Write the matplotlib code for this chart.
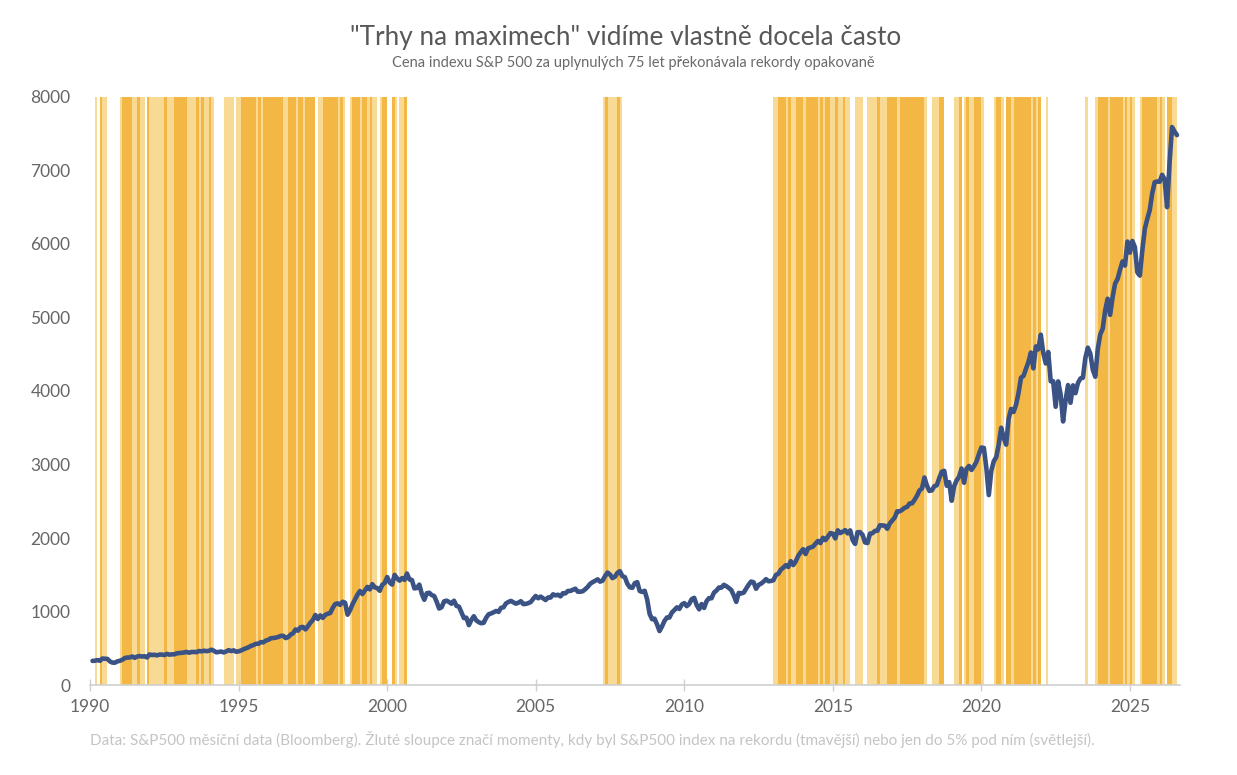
import matplotlib
matplotlib.use("Agg")
import matplotlib.pyplot as plt
import numpy as np

# S&P 500 month-end closes, Jan 1990 .. Jul 2026 (read / estimated from the chart)
sp_1990 = [329.08, 331.89, 339.94, 330.80, 361.23, 358.02, 356.15, 322.56, 306.05, 304.00, 322.22, 330.22]
sp_1991 = [343.93, 367.07, 375.22, 375.34, 389.83, 371.16, 387.81, 395.43, 387.86, 392.46, 375.22, 417.09]
sp_1992 = [408.79, 412.70, 403.69, 414.95, 415.35, 408.14, 424.21, 414.03, 417.80, 418.68, 431.35, 435.71]
sp_1993 = [438.78, 443.38, 451.67, 440.19, 450.19, 450.53, 448.13, 463.56, 458.93, 467.83, 461.79, 466.45]
sp_1994 = [481.61, 467.14, 445.77, 450.91, 456.50, 444.27, 458.26, 475.49, 462.69, 472.35, 453.69, 459.27]
sp_1995 = [470.42, 487.39, 500.71, 514.71, 533.40, 544.75, 562.06, 561.88, 584.41, 581.50, 605.37, 615.93]
sp_1996 = [636.02, 640.43, 645.50, 654.17, 669.12, 670.63, 639.95, 651.99, 687.33, 705.27, 757.02, 740.74]
sp_1997 = [786.16, 790.82, 757.12, 801.34, 848.28, 885.14, 954.29, 899.47, 947.28, 914.62, 955.40, 970.43]
sp_1998 = [980.28, 1049.34, 1101.75, 1111.75, 1090.82, 1133.84, 1120.67, 957.28, 1017.01, 1098.67, 1163.63, 1229.23]
sp_1999 = [1279.64, 1238.33, 1286.37, 1335.18, 1301.84, 1372.71, 1328.72, 1320.41, 1282.71, 1362.93, 1388.91, 1469.25]
sp_2000 = [1394.46, 1366.42, 1498.58, 1452.43, 1420.60, 1454.60, 1430.83, 1517.68, 1436.51, 1429.40, 1314.95, 1320.28]
sp_2001 = [1366.01, 1239.94, 1160.33, 1249.46, 1255.82, 1224.42, 1211.23, 1133.58, 1040.94, 1059.78, 1139.45, 1148.08]
sp_2002 = [1130.20, 1106.73, 1147.39, 1076.92, 1067.14, 989.82, 911.62, 916.07, 815.28, 885.76, 936.31, 879.82]
sp_2003 = [855.70, 841.15, 848.18, 916.92, 963.59, 974.50, 990.31, 1008.01, 995.97, 1050.71, 1058.20, 1111.92]
sp_2004 = [1131.13, 1144.94, 1126.21, 1107.30, 1120.68, 1140.84, 1101.72, 1104.24, 1114.58, 1130.20, 1173.82, 1211.92]
sp_2005 = [1181.27, 1203.60, 1180.59, 1156.85, 1191.50, 1191.33, 1234.18, 1220.33, 1228.81, 1207.01, 1249.48, 1248.29]
sp_2006 = [1280.08, 1280.66, 1294.83, 1310.61, 1270.09, 1270.20, 1276.66, 1303.82, 1335.85, 1377.94, 1400.63, 1418.30]
sp_2007 = [1438.24, 1406.82, 1420.86, 1482.37, 1530.62, 1503.35, 1455.27, 1473.99, 1526.75, 1549.38, 1481.14, 1468.36]
sp_2008 = [1378.55, 1330.63, 1322.70, 1385.59, 1400.38, 1280.00, 1267.38, 1282.83, 1166.36, 968.75, 896.24, 903.25]
sp_2009 = [825.88, 735.09, 797.87, 872.81, 919.14, 919.32, 987.48, 1020.62, 1057.08, 1036.19, 1095.63, 1115.10]
sp_2010 = [1073.87, 1104.49, 1169.43, 1186.69, 1089.41, 1030.71, 1101.60, 1049.33, 1141.20, 1183.26, 1180.55, 1257.64]
sp_2011 = [1286.12, 1327.22, 1325.83, 1363.61, 1345.20, 1320.64, 1292.28, 1218.89, 1131.42, 1253.30, 1246.96, 1257.60]
sp_2012 = [1312.41, 1365.68, 1408.47, 1397.91, 1310.33, 1362.16, 1379.32, 1406.58, 1440.67, 1412.16, 1416.18, 1426.19]
sp_2013 = [1498.11, 1514.68, 1569.19, 1597.57, 1630.74, 1606.28, 1685.73, 1632.97, 1681.55, 1756.54, 1805.81, 1848.36]
sp_2014 = [1782.59, 1859.45, 1872.34, 1883.95, 1923.57, 1960.23, 1930.67, 2003.37, 1972.29, 2018.05, 2067.56, 2058.90]
sp_2015 = [1994.99, 2104.50, 2067.89, 2085.51, 2107.39, 2063.11, 2103.84, 1972.18, 1920.03, 2079.36, 2080.41, 2043.94]
sp_2016 = [1940.24, 1932.23, 2059.74, 2065.30, 2096.95, 2098.86, 2173.60, 2170.95, 2168.27, 2126.15, 2198.81, 2238.83]
sp_2017 = [2278.87, 2363.64, 2362.72, 2384.20, 2411.80, 2423.41, 2470.30, 2471.65, 2519.36, 2575.26, 2647.58, 2673.61]
sp_2018 = [2823.81, 2713.83, 2640.87, 2648.05, 2705.27, 2718.37, 2816.29, 2901.52, 2913.98, 2711.74, 2760.17, 2506.85]
sp_2019 = [2704.10, 2784.49, 2834.40, 2945.83, 2752.06, 2941.76, 2980.38, 2926.46, 2976.74, 3037.56, 3140.98, 3230.78]
sp_2020 = [3225.52, 2954.22, 2584.59, 2912.43, 3044.31, 3100.29, 3271.12, 3500.31, 3363.00, 3269.96, 3621.63, 3756.07]
sp_2021 = [3714.24, 3811.15, 3972.89, 4181.17, 4204.11, 4297.50, 4395.26, 4522.68, 4307.54, 4605.38, 4567.00, 4766.18]
sp_2022 = [4515.55, 4373.94, 4530.41, 4131.93, 4132.15, 3785.38, 4130.29, 3955.00, 3585.62, 3871.98, 4080.11, 3839.50]
sp_2023 = [4076.60, 3970.15, 4109.31, 4169.48, 4179.83, 4450.38, 4588.96, 4507.66, 4288.05, 4193.80, 4567.80, 4769.83]
sp_2024 = [4845.65, 5096.27, 5254.35, 5035.69, 5277.51, 5460.48, 5522.30, 5648.40, 5762.48, 5705.45, 6032.38, 5881.63]
sp_2025 = [6040.53, 5954.50, 5611.85, 5569.06, 5911.69, 6204.95, 6339.39, 6460.26, 6688.46, 6840.20, 6849.09, 6845.50]
sp_2026 = [6940, 6880, 6500, 7100, 7590, 7530, 7480]

prior_peak = 353.40  # record close before Jan 1990 (Dec 1989)

years = list(range(1990, 2027))
y_ticks = [0, 1000, 2000, 3000, 4000, 5000, 6000, 7000, 8000]
x_ticks = [1990, 1995, 2000, 2005, 2010, 2015, 2020, 2025]

title = '"Trhy na maximech" vidíme vlastně docela často'
subtitle = "Cena indexu S&P 500 za uplynulých 75 let překonávala rekordy opakovaně"
note = ("Data: S&P500 měsíční data (Bloomberg). Žluté sloupce značí momenty, kdy byl S&P500 index "
        "na rekordu (tmavější) nebo jen do 5% pod ním (světlejší).")

series = [sp_1990, sp_1991, sp_1992, sp_1993, sp_1994, sp_1995, sp_1996, sp_1997, sp_1998,
          sp_1999, sp_2000, sp_2001, sp_2002, sp_2003, sp_2004, sp_2005, sp_2006, sp_2007,
          sp_2008, sp_2009, sp_2010, sp_2011, sp_2012, sp_2013, sp_2014, sp_2015, sp_2016,
          sp_2017, sp_2018, sp_2019, sp_2020, sp_2021, sp_2022, sp_2023, sp_2024, sp_2025, sp_2026]

t = []
px = []
for yr, vals in zip(years, series):
    for m, v in enumerate(vals):
        t.append(yr + (m + 1) / 12)  # month end
        px.append(v)
t = np.array(t)
px = np.array(px)

# record / near-record flags
prev_max = np.maximum.accumulate(np.concatenate([[prior_peak], px]))[:-1]
is_rec = px >= prev_max
run_max = np.maximum(prev_max, px)
near = (~is_rec) & (px >= 0.95 * run_max)

plt.rcParams["font.family"] = ["Lato", "DejaVu Sans"]

fig = plt.figure(figsize=(12.37, 7.75), dpi=100)
ax = fig.add_axes([0.0728, 0.116, 0.881, 0.759])

dark = "#F3B745"
light = "#F9DA95"
w = 1 / 12 * 1.02
ax.bar(t[near], 8000, width=-w, align="edge", color=light, linewidth=0, zorder=1)
ax.bar(t[is_rec], 8000, width=-w, align="edge", color=dark, linewidth=0, zorder=2)

ax.plot(t, px, color="#3A5284", lw=3.3, solid_joinstyle="round", solid_capstyle="round", zorder=3)

ax.set_xlim(1990, 2026.68)
ax.set_ylim(0, 8000)
ax.set_xticks(x_ticks)
ax.set_yticks(y_ticks)
ax.tick_params(axis="x", colors="#d0d0d0", direction="inout", length=8, width=1,
               labelcolor="#666666", labelsize=12.5, pad=6)
ax.tick_params(axis="y", length=0, labelcolor="#666666", labelsize=12.5, pad=14)

for s in ["top", "right", "left"]:
    ax.spines[s].set_visible(False)
ax.spines["bottom"].set_color("#d0d0d0")
ax.spines["bottom"].set_linewidth(1.2)

fig.text(0.506, 0.951, title, ha="center", va="center", fontsize=18.8, color="#585858")
fig.text(0.512, 0.919, subtitle, ha="center", va="center", fontsize=10.5, color="#6a6a6a")
fig.text(0.0728, 0.046, note, ha="left", va="center", fontsize=11, color="#c4c4c4")

fig.savefig("out.png", dpi=100)
